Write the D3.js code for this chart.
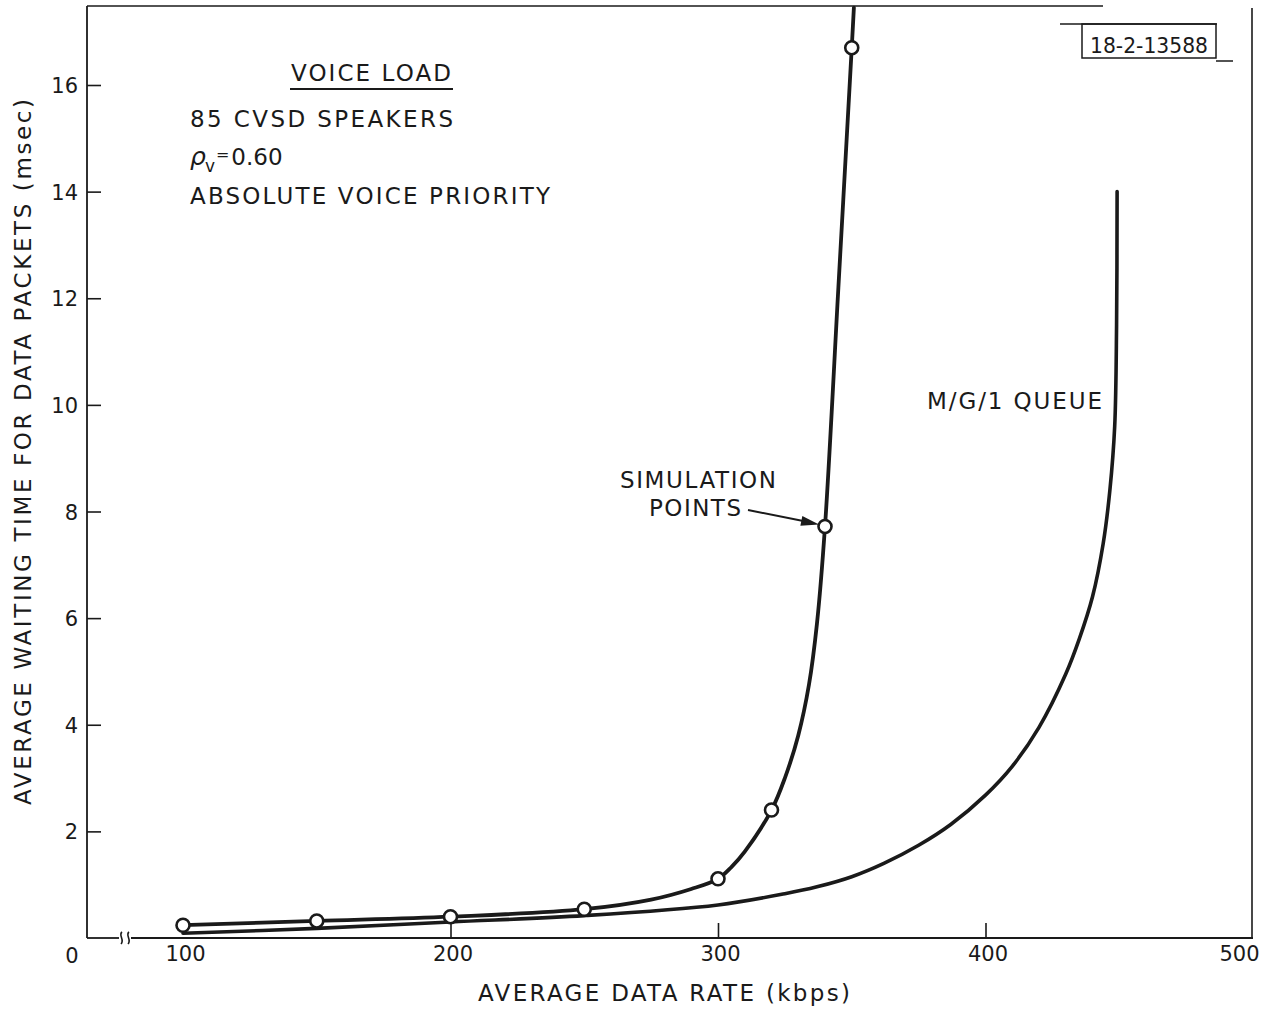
<!DOCTYPE html>
<html>
<head>
<meta charset="utf-8">
<script src="https://cdn.jsdelivr.net/npm/d3@7"></script>
<style>
  html, body { margin: 0; padding: 0; background: #fff; }
  svg { display: block; }
  text { font-family: "DejaVu Sans", "Liberation Sans", sans-serif; fill: #1a1a1a; }
</style>
</head>
<body>
<svg id="chart" width="1274" height="1010"></svg>
<script>
// ---- data ----
const xTicks = [100, 200, 300, 400, 500];
const yTicks = [2, 4, 6, 8, 10, 12, 14, 16];

// simulation points (kbps, msec)
const simX = [100, 150, 200, 250, 300, 320, 340, 350];
const simY = [0.24, 0.32, 0.40, 0.54, 1.11, 2.40, 7.72, 16.7];

// curve drawn through the simulation points
const simCurveX = [100, 150, 200, 250, 275, 290, 300, 305, 310, 320, 325, 330, 334, 337, 340, 345, 350, 350.8];
const simCurveY = [0.24, 0.32, 0.40, 0.54, 0.72, 0.92, 1.11, 1.33, 1.62, 2.40, 3.0, 3.8, 4.75, 5.9, 7.72, 12.2, 16.7, 17.45];

// M/G/1 queue curve
const mgX = [100, 150, 200, 250, 300, 325, 337, 350, 362, 375, 387, 400, 410, 420, 430, 435, 440, 444, 446.5, 448.3, 449, 449.2];
const mgY = [0.09, 0.18, 0.30, 0.42, 0.62, 0.83, 0.96, 1.15, 1.40, 1.74, 2.13, 2.68, 3.22, 3.95, 4.95, 5.6, 6.4, 7.4, 8.4, 9.6, 11.5, 14.0];

// ---- layout ----
const svg = d3.select("#chart");
const axisLeftX = 87;      // position of the broken "0" origin
const plotRight = 1253;
const plotTop = 6;
const plotBottom = 938;

const x = d3.scaleLinear().domain([100, 500]).range([183, 1253]);
const y = d3.scaleLinear().domain([0, 16]).range([plotBottom, 85]);

const ink = "#1a1a1a";

// frame: left axis, top line, right border
svg.append("line").attr("x1", axisLeftX).attr("x2", axisLeftX).attr("y1", plotTop).attr("y2", plotBottom)
  .attr("stroke", ink).attr("stroke-width", 1.8);
svg.append("line").attr("x1", axisLeftX).attr("x2", 1103).attr("y1", plotTop).attr("y2", plotTop)
  .attr("stroke", ink).attr("stroke-width", 1.6);
svg.append("line").attr("x1", plotRight - 1).attr("x2", plotRight - 1).attr("y1", 8).attr("y2", plotBottom)
  .attr("stroke", ink).attr("stroke-width", 1.6);

// bottom axis with break
svg.append("line").attr("x1", axisLeftX).attr("x2", 119).attr("y1", plotBottom).attr("y2", plotBottom)
  .attr("stroke", ink).attr("stroke-width", 1.8);
svg.append("line").attr("x1", 131).attr("x2", plotRight).attr("y1", plotBottom).attr("y2", plotBottom)
  .attr("stroke", ink).attr("stroke-width", 1.8);
[119, 126].forEach(bx => {
  svg.append("path")
    .attr("d", `M${bx + 3},${plotBottom - 6} C${bx - 1},${plotBottom - 3} ${bx + 6},${plotBottom + 2} ${bx + 2},${plotBottom + 6}`)
    .attr("fill", "none").attr("stroke", ink).attr("stroke-width", 1.6);
});

// y axis ticks & labels
const yAxis = d3.axisLeft(y).tickValues(yTicks).tickSizeInner(-14).tickSizeOuter(0).tickPadding(9)
  .tickFormat(d3.format("d"));
const gy = svg.append("g").attr("transform", `translate(${axisLeftX},0)`).call(yAxis);
gy.select(".domain").remove();
gy.selectAll(".tick line").attr("stroke", ink).attr("stroke-width", 1.6);
gy.selectAll(".tick text").attr("font-size", 21).attr("fill", "#222").attr("font-family", "DejaVu Sans").attr("dy", "0.36em");

// x axis ticks & labels
const xAxis = d3.axisBottom(x).tickValues(xTicks).tickSizeInner(-15).tickSizeOuter(0).tickPadding(8)
  .tickFormat(d3.format("d"));
const gx = svg.append("g").attr("transform", `translate(0,${plotBottom})`).call(xAxis);
gx.select(".domain").remove();
gx.selectAll(".tick line").attr("stroke", ink).attr("stroke-width", 1.6)
  .attr("opacity", d => (d === 100 || d === 500) ? 0 : 1);
gx.selectAll(".tick text").attr("font-size", 21).attr("fill", "#222").attr("font-family", "DejaVu Sans")
  .attr("dx", d => d === 500 ? -14 : 2);

// origin label "0"
svg.append("text").attr("x", 72).attr("y", 963).attr("text-anchor", "middle")
  .attr("font-size", 21).attr("fill", "#222").text("0");

// axis titles
svg.append("text").attr("x", 664).attr("y", 1001).attr("text-anchor", "middle")
  .attr("font-size", 23).attr("textLength", 372).attr("lengthAdjust", "spacing")
  .text("AVERAGE DATA RATE (kbps)");
svg.append("text").attr("transform", "translate(31,452) rotate(-90)").attr("text-anchor", "middle")
  .attr("font-size", 23).attr("textLength", 706).attr("lengthAdjust", "spacing")
  .text("AVERAGE WAITING TIME FOR DATA PACKETS (msec)");

// curves
const lineGen = d3.line().x(d => x(d[0])).y(d => y(d[1])).curve(d3.curveCatmullRom.alpha(0.5));
svg.append("path").datum(mgX.map((v, i) => [v, mgY[i]]))
  .attr("d", lineGen).attr("fill", "none").attr("stroke", ink).attr("stroke-width", 3.6)
  .attr("stroke-linecap", "round");
svg.append("path").datum(simCurveX.map((v, i) => [v, simCurveY[i]]))
  .attr("d", lineGen).attr("fill", "none").attr("stroke", ink).attr("stroke-width", 3.8)
  .attr("stroke-linecap", "round");

// simulation points
svg.append("g").selectAll("circle").data(simX.map((v, i) => [v, simY[i]])).join("circle")
  .attr("cx", d => x(d[0])).attr("cy", d => y(d[1])).attr("r", 6.5)
  .attr("fill", "#fff").attr("stroke", ink).attr("stroke-width", 2.6);

// annotation block
svg.append("text").attr("x", 371).attr("y", 81).attr("text-anchor", "middle")
  .attr("font-size", 23).attr("textLength", 160).attr("lengthAdjust", "spacing").text("VOICE LOAD");
svg.append("line").attr("x1", 290).attr("x2", 453).attr("y1", 89).attr("y2", 89)
  .attr("stroke", ink).attr("stroke-width", 1.8);
svg.append("text").attr("x", 190).attr("y", 127).attr("font-size", 23)
  .attr("textLength", 263).attr("lengthAdjust", "spacing").text("85 CVSD SPEAKERS");
const rho = svg.append("text").attr("x", 190).attr("y", 165).attr("font-size", 23);
rho.append("tspan").attr("font-style", "italic").attr("font-size", 25).text("ρ");
rho.append("tspan").attr("font-size", 17).attr("dy", 7).attr("dx", -1).text("v");
rho.append("tspan").attr("font-size", 16).attr("dy", -12).attr("dx", 1).text("=");
rho.append("tspan").attr("font-size", 23).attr("dy", 5).attr("dx", 2).text("0.60");
svg.append("text").attr("x", 190).attr("y", 204).attr("font-size", 23)
  .attr("textLength", 360).attr("lengthAdjust", "spacing").text("ABSOLUTE VOICE PRIORITY");

// simulation points label + arrow
svg.append("text").attr("x", 698).attr("y", 488).attr("text-anchor", "middle").attr("font-size", 23)
  .attr("textLength", 156).attr("lengthAdjust", "spacing").text("SIMULATION");
svg.append("text").attr("x", 695).attr("y", 516).attr("text-anchor", "middle").attr("font-size", 23)
  .attr("textLength", 92).attr("lengthAdjust", "spacing").text("POINTS");
const px = x(simX[6]), py = y(simY[6]);
const ax0 = 748, ay0 = 510, ax1 = px - 6, ay1 = py - 2;
svg.append("line").attr("x1", ax0).attr("y1", ay0).attr("x2", ax1 - 12).attr("y2", ay1 - 2.6)
  .attr("stroke", ink).attr("stroke-width", 2);
{
  const ang = Math.atan2(ay1 - ay0, ax1 - ax0);
  const L = 18, W = 5;
  const bx = ax1 - L * Math.cos(ang), by = ay1 - L * Math.sin(ang);
  const nx = -Math.sin(ang), ny = Math.cos(ang);
  svg.append("path")
    .attr("d", `M${ax1},${ay1} L${bx + nx * W},${by + ny * W} L${bx - nx * W},${by - ny * W} Z`)
    .attr("fill", ink);
}

// M/G/1 label
svg.append("text").attr("x", 927).attr("y", 409).attr("font-size", 23)
  .attr("textLength", 175).attr("lengthAdjust", "spacing").text("M/G/1 QUEUE");

// drawing-number tag
svg.append("line").attr("x1", 1060).attr("x2", 1217).attr("y1", 24).attr("y2", 24)
  .attr("stroke", ink).attr("stroke-width", 1.5);
svg.append("rect").attr("x", 1082).attr("y", 24).attr("width", 134).attr("height", 34)
  .attr("fill", "none").attr("stroke", ink).attr("stroke-width", 1.5);
svg.append("line").attr("x1", 1216).attr("x2", 1233).attr("y1", 61).attr("y2", 61)
  .attr("stroke", ink).attr("stroke-width", 1.5);
svg.append("text").attr("x", 1090).attr("y", 53).attr("font-size", 22)
  .attr("font-family", "Liberation Sans Narrow, DejaVu Sans Condensed, sans-serif")
  .attr("textLength", 118).attr("lengthAdjust", "spacingAndGlyphs").text("18-2-13588");
</script>
</body>
</html>
